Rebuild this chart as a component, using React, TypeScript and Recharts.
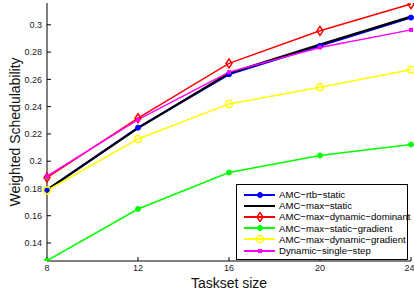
import { Line, LineChart, XAxis, YAxis } from 'recharts'

const tasksetSizes = [8, 12, 16, 20, 24]
const rtbStatic = [0.179, 0.2246, 0.2637, 0.2846, 0.3053]
const maxStatic = [0.179, 0.2242, 0.2645, 0.2856, 0.306]
const maxDynamicDominant = [0.188, 0.2315, 0.2717, 0.2956, 0.3152]
const maxStaticGradient = [0.127, 0.1649, 0.1917, 0.2042, 0.2122]
const maxDynamicGradient = [0.1785, 0.2163, 0.242, 0.2542, 0.2671]
const dynamicSingleStep = [0.189, 0.2305, 0.2653, 0.2834, 0.2963]

const xTicks = [8, 12, 16, 20, 24]
const yTicks = [0.14, 0.16, 0.18, 0.2, 0.22, 0.24, 0.26, 0.28, 0.3]

const rows = tasksetSizes.map((size, i) => ({
  size,
  rtbStatic: rtbStatic[i],
  maxStatic: maxStatic[i],
  maxDynamicDominant: maxDynamicDominant[i],
  maxStaticGradient: maxStaticGradient[i],
  maxDynamicGradient: maxDynamicGradient[i],
  dynamicSingleStep: dynamicSingleStep[i],
}))

type Marker = 'dot' | 'none' | 'diamond' | 'circle' | 'square'

const series: { key: string; name: string; color: string; width: number; marker: Marker }[] = [
  { key: 'rtbStatic', name: 'AMC\u2212rtb\u2212static', color: '#0000ff', width: 2, marker: 'dot' },
  { key: 'maxStatic', name: 'AMC\u2212max\u2212static', color: '#000000', width: 2.2, marker: 'none' },
  { key: 'maxDynamicDominant', name: 'AMC\u2212max\u2212dynamic\u2212dominant', color: '#ff0000', width: 1.5, marker: 'diamond' },
  { key: 'maxStaticGradient', name: 'AMC\u2212max\u2212static\u2212gradient', color: '#00ff00', width: 1.5, marker: 'dot' },
  { key: 'maxDynamicGradient', name: 'AMC\u2212max\u2212dynamic\u2212gradient', color: '#ffff00', width: 1.5, marker: 'circle' },
  { key: 'dynamicSingleStep', name: 'Dynamic\u2212single\u2212step', color: '#ff00ff', width: 1.5, marker: 'square' },
]

const font = '"Liberation Sans", Arial, sans-serif'

function MarkerShape({ cx, cy, color, marker }: { cx: number; cy: number; color: string; marker: Marker }) {
  if (marker === 'dot') return <circle cx={cx} cy={cy} r={2.5} fill={color} stroke={color} />
  if (marker === 'diamond')
    return (
      <path
        d={`M${cx},${cy - 4.5}L${cx + 3},${cy}L${cx},${cy + 4.5}L${cx - 3},${cy}Z`}
        fill="none"
        stroke={color}
        strokeWidth={1.5}
      />
    )
  if (marker === 'circle') return <circle cx={cx} cy={cy} r={3.5} fill="none" stroke={color} strokeWidth={1.5} />
  if (marker === 'square') return <rect x={cx - 2} y={cy - 2} width={4} height={4} fill={color} />
  return <g />
}

function LegendBox() {
  return (
    <div
      style={{
        position: 'absolute',
        left: 236,
        top: 184,
        width: 170,
        height: 70,
        boxSizing: 'content-box',
        border: '1px solid #000',
        background: '#fff',
        paddingTop: 4,
        fontFamily: font,
        fontSize: 9.6,
        color: '#000',
      }}
    >
      {series.map((s) => (
        <div key={s.key} style={{ display: 'flex', alignItems: 'center', height: 11.2, lineHeight: '11.2px' }}>
          <svg width={42} height={10} style={{ flex: 'none' }}>
            <line x1={7} x2={38} y1={5} y2={5} stroke={s.color} strokeWidth={2} />
            <MarkerShape cx={23} cy={5} color={s.color} marker={s.marker} />
          </svg>
          <span style={{ whiteSpace: 'nowrap' }}>{s.name}</span>
        </div>
      ))}
    </div>
  )
}

export default function App() {
  return (
    <div style={{ position: 'absolute', left: 0, top: 0, width: 414, height: 299, background: '#fff' }}>
      <LineChart width={414} height={299} data={rows} margin={{ top: 3, right: 3, left: 0, bottom: 0 }}>
        <XAxis
          dataKey="size"
          type="number"
          domain={[8, 24]}
          ticks={xTicks}
          height={38}
          tickSize={-4}
          tickMargin={8}
          stroke="#000"
          tick={{ fontSize: 9, fill: '#222', fontFamily: font }}
          label={{
            content: () => (
              <text x={229} y={288} textAnchor="middle" fontSize={14} fill="#111" fontFamily={font}>
                Taskset size
              </text>
            ),
          }}
        />
        <XAxis
          xAxisId="top"
          dataKey="size"
          type="number"
          domain={[8, 24]}
          ticks={xTicks}
          orientation="top"
          height={0}
          tickSize={-4}
          tickFormatter={() => ''}
          stroke="#000"
        />
        <YAxis
          type="number"
          domain={[0.1268, 0.316]}
          ticks={yTicks}
          allowDataOverflow
          width={47}
          tickSize={-4}
          tickMargin={9}
          stroke="#000"
          tick={{ fontSize: 9, fill: '#222', fontFamily: font }}
          label={{
            content: () => (
              <text
                x={20}
                y={132}
                transform="rotate(-90 20 132)"
                textAnchor="middle"
                fontSize={14}
                fill="#111"
                fontFamily={font}
              >
                Weighted Schedulability
              </text>
            ),
          }}
        />
        <YAxis
          yAxisId="right"
          type="number"
          domain={[0.1268, 0.316]}
          ticks={yTicks}
          allowDataOverflow
          orientation="right"
          width={0}
          tickSize={-4}
          tickFormatter={() => ''}
          stroke="#000"
        />
        {series.map((s) => (
          <Line
            key={s.key}
            dataKey={s.key}
            name={s.name}
            stroke={s.color}
            strokeWidth={s.width}
            isAnimationActive={false}
            dot={(p: any) => <MarkerShape key={`${s.key}-${p.index}`} cx={p.cx} cy={p.cy} color={s.color} marker={s.marker} />}
            activeDot={false}
          />
        ))}
      </LineChart>
      <LegendBox />
    </div>
  )
}
